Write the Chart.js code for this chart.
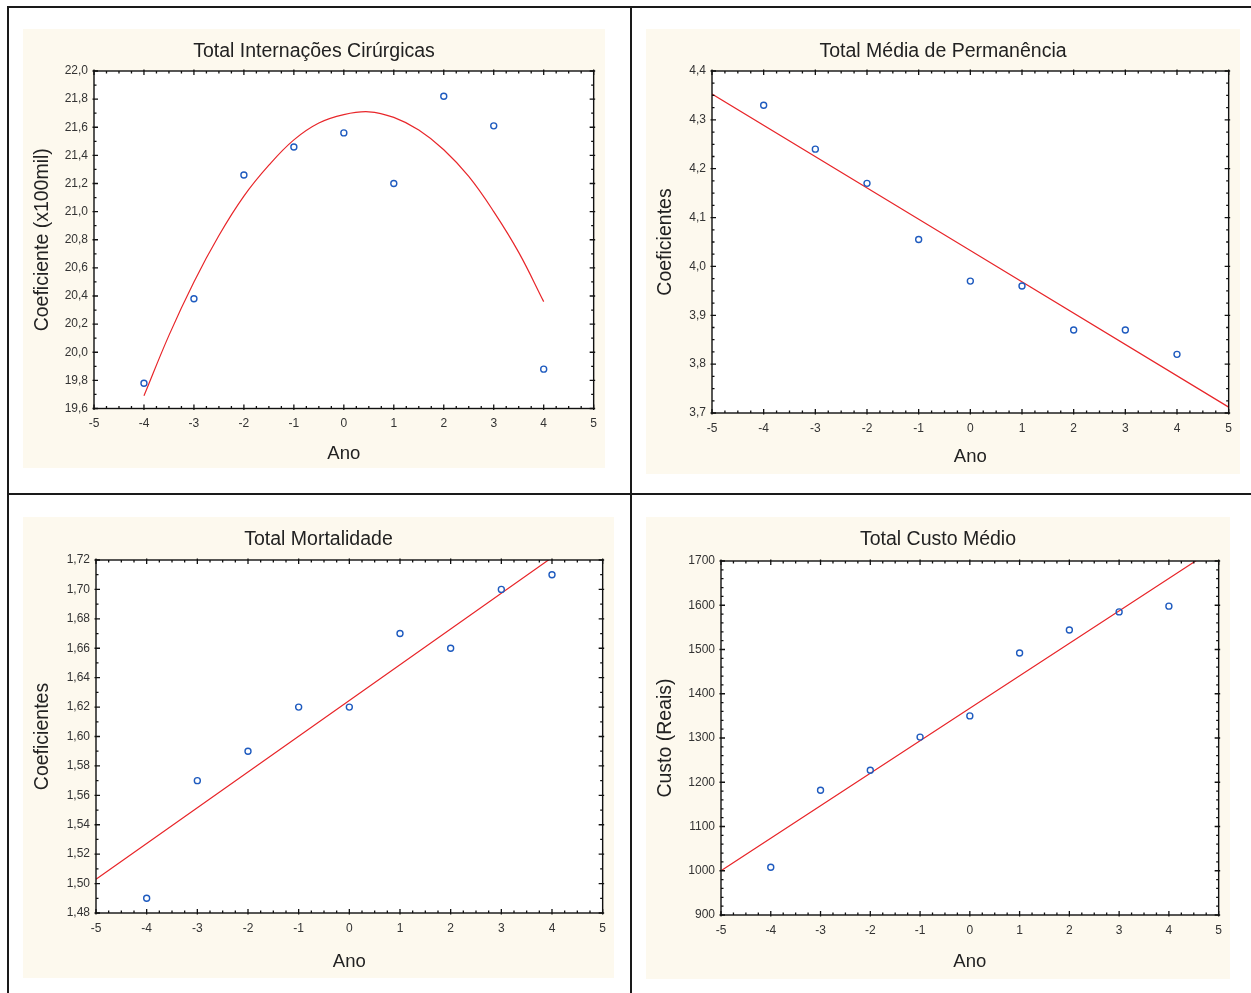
<!DOCTYPE html>
<html>
<head>
<meta charset="utf-8">
<script src="https://cdn.jsdelivr.net/npm/chart.js@4.4.1/dist/chart.umd.min.js"></script>
<style>
  body { margin: 0; background: #fff; width: 1251px; height: 993px; position: relative; overflow: hidden; }
  .linha { position: absolute; background: #1a1a1a; }
  canvas { position: absolute; background: #fdf9ee; }
</style>
</head>
<body>
<div class="linha" style="left:7px;top:6px;width:2px;height:987px"></div>
<div class="linha" style="left:7px;top:6px;width:1244px;height:2px"></div>
<div class="linha" style="left:630px;top:6px;width:2px;height:987px"></div>
<div class="linha" style="left:7px;top:493px;width:1244px;height:2px"></div>

<canvas id="c1" width="582" height="439" style="left:23px;top:29px"></canvas>
<canvas id="c2" width="594" height="445" style="left:646px;top:29px"></canvas>
<canvas id="c3" width="591" height="461" style="left:23px;top:517px"></canvas>
<canvas id="c4" width="584" height="462" style="left:646px;top:517px"></canvas>

<script>
// anos centrados (x)
const anos = [-4, -3, -2, -1, 0, 1, 2, 3, 4];

// Total Internações Cirúrgicas
const internacoes = [19.78, 20.38, 21.26, 21.46, 21.56, 21.20, 21.82, 21.61, 19.88];
const ajusteInternacoesX = [-4, -3.5, -3, -2.5, -2, -1.5, -1, -0.5, 0, 0.5, 1, 1.5, 2, 2.5, 3, 3.5, 4];
const ajusteInternacoesY = [19.69, 20.12, 20.50, 20.83, 21.11, 21.33, 21.51, 21.63, 21.69, 21.71, 21.67, 21.58, 21.44, 21.25, 21.00, 20.71, 20.36];

// Total Média de Permanência
const permanencia = [4.33, 4.24, 4.17, 4.055, 3.97, 3.96, 3.87, 3.87, 3.82];
const ajustePermanenciaX = [-5, 5];
const ajustePermanenciaY = [4.353, 3.712];

// Total Mortalidade
const mortalidade = [1.49, 1.57, 1.59, 1.62, 1.62, 1.67, 1.66, 1.70, 1.71];
const ajusteMortalidadeX = [-5, 5];
const ajusteMortalidadeY = [1.503, 1.746];

// Total Custo Médio
const custo = [1008, 1182, 1227, 1302, 1350, 1492, 1544, 1585, 1598];
const ajusteCustoX = [-5, 5];
const ajusteCustoY = [1000, 1734];

const fonte = "'Liberation Sans', Arial, sans-serif";

const moldura = {
    id: 'moldura',
    beforeDatasetsDraw(chart) {
        const { ctx, chartArea: a } = chart;
        ctx.save();
        ctx.fillStyle = '#fff';
        ctx.fillRect(a.left, a.top, a.right - a.left, a.bottom - a.top);
        ctx.restore();
    },
    afterDraw(chart, args, opts) {
        const { ctx, chartArea: a, scales } = chart;
        const x = scales.x, y = scales.y;
        ctx.save();
        ctx.strokeStyle = '#111';
        ctx.lineWidth = 1.4;
        ctx.strokeRect(a.left, a.top, a.right - a.left, a.bottom - a.top);
        ctx.lineWidth = 1.3;
        ctx.beginPath();
        let n = Math.round((x.max - x.min) / opts.xMinor);
        let per = Math.round(opts.xMajor / opts.xMinor);
        for (let i = 0; i <= n; i++) {
            const px = x.getPixelForValue(x.min + i * opts.xMinor);
            const maj = i % per === 0;
            const len = maj ? 4 : 2.5, out = maj ? 1.5 : 0;
            ctx.moveTo(px, a.bottom + out); ctx.lineTo(px, a.bottom - len);
            ctx.moveTo(px, a.top - out); ctx.lineTo(px, a.top + len);
        }
        n = Math.round((y.max - y.min) / opts.yMinor);
        per = Math.round(opts.yMajor / opts.yMinor);
        for (let i = 0; i <= n; i++) {
            const py = y.getPixelForValue(y.min + i * opts.yMinor);
            const maj = i % per === 0;
            const len = maj ? 4 : 2.5, out = maj ? 1.5 : 0;
            ctx.moveTo(a.left - out, py); ctx.lineTo(a.left + len, py);
            ctx.moveTo(a.right + out, py); ctx.lineTo(a.right - len, py);
        }
        ctx.stroke();
        ctx.restore();
    }
};

function pares(xs, ys) {
    return xs.map((v, i) => ({ x: v, y: ys[i] }));
}

function grafico(id, cfg) {
    const ctx = document.getElementById(id).getContext('2d');
    new Chart(ctx, {
        type: 'scatter',
        data: {
            datasets: [
                {
                    type: 'line',
                    data: pares(cfg.ajusteX, cfg.ajusteY),
                    borderColor: '#e8262a',
                    borderWidth: 1.2,
                    pointRadius: 0,
                    fill: false,
                    tension: 0.4,
                    order: 2
                },
                {
                    data: pares(anos, cfg.valores),
                    borderColor: '#1f5bbf',
                    backgroundColor: 'rgba(0,0,0,0)',
                    borderWidth: 1.4,
                    pointRadius: 3,
                    order: 1
                }
            ]
        },
        options: {
            responsive: false,
            animation: false,
            events: [],
            plugins: {
                legend: { display: false },
                tooltip: { enabled: false },
                title: {
                    display: true,
                    text: cfg.titulo,
                    color: '#222',
                    font: { family: fonte, size: 19.5, weight: 'normal', lineHeight: 1.2 },
                    padding: { top: cfg.tituloY - 11.7, bottom: cfg.topo - 23.4 - (cfg.tituloY - 11.7) }
                },
                moldura: { xMinor: 0.25, xMajor: 1, yMinor: cfg.yMenor, yMajor: cfg.passo }
            },
            scales: {
                x: {
                    type: 'linear',
                    min: -5, max: 5,
                    grid: { display: false, drawTicks: false },
                    border: { display: false },
                    ticks: {
                        stepSize: 1, padding: 8, color: '#333',
                        font: { family: fonte, size: 12 },
                        callback: v => String(v)
                    },
                    title: {
                        display: true, text: 'Ano', color: '#222',
                        font: { family: fonte, size: 18.5, lineHeight: 1.2 },
                        padding: { top: 0, bottom: cfg.anoPad }
                    },
                    afterFit(s) { s.height = cfg.baseH; }
                },
                y: {
                    type: 'linear',
                    min: cfg.min, max: cfg.max,
                    grid: { display: false, drawTicks: false },
                    border: { display: false },
                    ticks: {
                        stepSize: cfg.passo, padding: 6, color: '#333',
                        font: { family: fonte, size: 12 },
                        callback: v => v.toFixed(cfg.casas).replace('.', ',')
                    },
                    title: {
                        display: true, text: cfg.eixoY, color: '#222',
                        font: { family: fonte, size: 19.5, lineHeight: 1.2 },
                        padding: { top: 8.3, bottom: 0 }
                    },
                    afterFit(s) { s.width = cfg.esqW; }
                },
                // margem direita vazia (mantém o título centrado no painel)
                margem: {
                    type: 'linear',
                    position: 'right',
                    min: 0, max: 1,
                    grid: { display: false, drawTicks: false },
                    border: { display: false },
                    ticks: { display: false },
                    afterFit(s) { s.width = cfg.dir; }
                }
            }
        },
        plugins: [moldura]
    });
}

grafico('c1', {
    titulo: 'Total Internações Cirúrgicas', eixoY: 'Coeficiente (x100mil)',
    valores: internacoes, ajusteX: ajusteInternacoesX, ajusteY: ajusteInternacoesY,
    min: 19.6, max: 22.0, passo: 0.2, yMenor: 0.1, casas: 1,
    esqW: 71, dir: 11, topo: 42, tituloY: 23, baseH: 59.5, anoPad: 2.9
});
grafico('c2', {
    titulo: 'Total Média de Permanência', eixoY: 'Coeficientes',
    valores: permanencia, ajusteX: ajustePermanenciaX, ajusteY: ajustePermanenciaY,
    min: 3.7, max: 4.4, passo: 0.1, yMenor: 0.025, casas: 1,
    esqW: 66, dir: 11, topo: 42, tituloY: 22.5, baseH: 61, anoPad: 5.9
});
grafico('c3', {
    titulo: 'Total Mortalidade', eixoY: 'Coeficientes',
    valores: mortalidade, ajusteX: ajusteMortalidadeX, ajusteY: ajusteMortalidadeY,
    min: 1.48, max: 1.72, passo: 0.02, yMenor: 0.01, casas: 2,
    esqW: 73, dir: 11, topo: 43, tituloY: 23, baseH: 65, anoPad: 4.9
});
grafico('c4', {
    titulo: 'Total Custo Médio', eixoY: 'Custo (Reais)',
    valores: custo, ajusteX: ajusteCustoX, ajusteY: ajusteCustoY,
    min: 900, max: 1700, passo: 100, yMenor: 20, casas: 0,
    esqW: 75, dir: 11, topo: 44, tituloY: 23, baseH: 64, anoPad: 5.9
});
</script>
</body>
</html>
